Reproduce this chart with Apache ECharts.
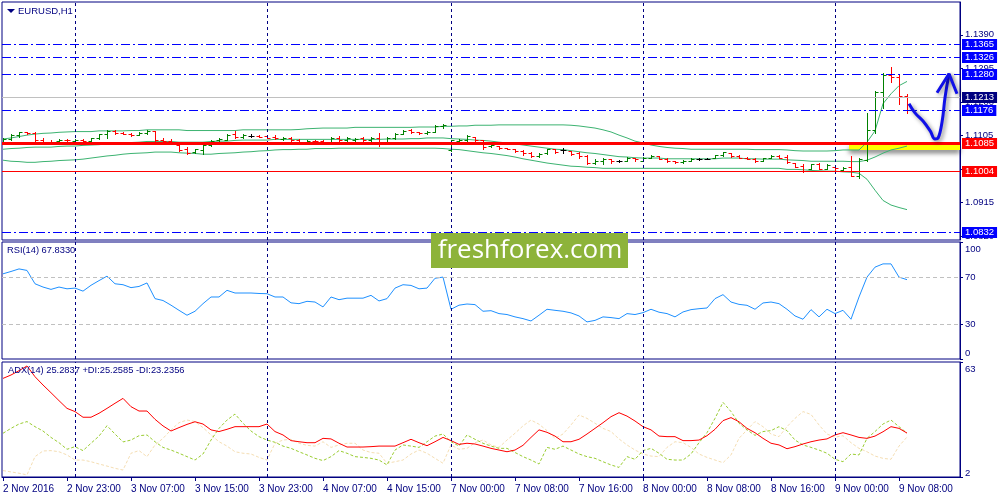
<!DOCTYPE html>
<html>
<head>
<meta charset="utf-8">
<script src="https://cdn.jsdelivr.net/npm/echarts@6/dist/echarts.min.js"></script>
<style>
html, body { margin: 0; padding: 0; background: #fff; }
#chart { width: 1000px; height: 500px; }
</style>
</head>
<body>
<div id="chart"></div>
<script>
// EURUSD H1, 2 Nov 15:00 .. 9 Nov 09:00 (114 bars)
const barOpen = [1.1087,1.1096,1.1106,1.1114,1.1112,1.1091,1.1086,1.1088,1.1093,1.1089,1.1093,1.1089,1.1097,1.1108,1.1118,1.1113,1.1110,1.1107,1.1113,1.1118,1.1092,1.1090,1.1077,1.1066,1.1059,1.1063,1.1078,1.1091,1.1093,1.1108,1.1102,1.1104,1.1104,1.1103,1.1101,1.1095,1.1099,1.1091,1.1087,1.1090,1.1088,1.1085,1.1099,1.1091,1.1091,1.1097,1.1091,1.1099,1.1087,1.1099,1.1110,1.1120,1.1116,1.1112,1.1116,1.1131,1.1063,1.1089,1.1093,1.1101,1.1091,1.1074,1.1075,1.1070,1.1068,1.1061,1.1054,1.1047,1.1055,1.1066,1.1063,1.1061,1.1056,1.1048,1.1028,1.1032,1.1037,1.1032,1.1034,1.1042,1.1034,1.1042,1.1046,1.1039,1.1032,1.1030,1.1033,1.1038,1.1039,1.1042,1.1049,1.1055,1.1047,1.1042,1.1039,1.1034,1.1042,1.1048,1.1044,1.1028,1.1018,1.1011,1.1023,1.1011,1.1015,1.1008,1.1015,1.0990,1.1035,1.1120,1.1227,1.1275,1.1272,1.1218];
const barHigh = [1.1099,1.1110,1.1116,1.1116,1.1115,1.1099,1.1092,1.1094,1.1094,1.1095,1.1094,1.1099,1.1110,1.1121,1.1121,1.1115,1.1111,1.1116,1.1121,1.1118,1.1097,1.1094,1.1078,1.1072,1.1068,1.1080,1.1092,1.1097,1.1110,1.1118,1.1108,1.1108,1.1106,1.1106,1.1106,1.1101,1.1102,1.1094,1.1092,1.1092,1.1091,1.1101,1.1104,1.1101,1.1099,1.1101,1.1101,1.1113,1.1101,1.1113,1.1120,1.1123,1.1116,1.1118,1.1135,1.1137,1.1092,1.1094,1.1106,1.1101,1.1091,1.1080,1.1075,1.1070,1.1068,1.1063,1.1059,1.1056,1.1068,1.1066,1.1070,1.1061,1.1059,1.1051,1.1037,1.1042,1.1039,1.1035,1.1044,1.1042,1.1044,1.1049,1.1047,1.1040,1.1034,1.1035,1.1040,1.1040,1.1042,1.1051,1.1059,1.1056,1.1049,1.1044,1.1040,1.1042,1.1049,1.1049,1.1049,1.1028,1.1023,1.1025,1.1028,1.1023,1.1021,1.1017,1.1047,1.1040,1.1170,1.1230,1.1281,1.1298,1.1275,1.1222];
const barLow = [1.1085,1.1091,1.1101,1.1110,1.1089,1.1080,1.1082,1.1087,1.1089,1.1085,1.1087,1.1087,1.1094,1.1099,1.1110,1.1108,1.1104,1.1106,1.1110,1.1089,1.1087,1.1080,1.1061,1.1053,1.1056,1.1053,1.1075,1.1089,1.1091,1.1099,1.1097,1.1101,1.1101,1.1097,1.1094,1.1092,1.1089,1.1083,1.1085,1.1087,1.1080,1.1085,1.1087,1.1087,1.1085,1.1087,1.1087,1.1075,1.1080,1.1094,1.1108,1.1113,1.1108,1.1108,1.1116,1.1127,1.1061,1.1080,1.1089,1.1087,1.1068,1.1072,1.1068,1.1066,1.1059,1.1051,1.1044,1.1044,1.1053,1.1056,1.1056,1.1051,1.1042,1.1025,1.1025,1.1025,1.1028,1.1030,1.1032,1.1034,1.1032,1.1042,1.1037,1.1030,1.1028,1.1028,1.1032,1.1036,1.1037,1.1042,1.1047,1.1044,1.1040,1.1037,1.1030,1.1034,1.1040,1.1040,1.1028,1.1015,1.1001,1.1010,1.1009,1.1010,1.1008,1.1004,1.0990,1.0985,1.1034,1.1113,1.1184,1.1256,1.1194,1.1170];
const barClose = [1.1096,1.1106,1.1114,1.1112,1.1091,1.1085,1.1084,1.1093,1.1091,1.1093,1.1089,1.1097,1.1108,1.1118,1.1113,1.1110,1.1106,1.1113,1.1118,1.1092,1.1090,1.1082,1.1063,1.1056,1.1066,1.1078,1.1089,1.1094,1.1106,1.1102,1.1106,1.1104,1.1102,1.1099,1.1097,1.1099,1.1091,1.1086,1.1089,1.1088,1.1084,1.1097,1.1091,1.1097,1.1095,1.1093,1.1097,1.1087,1.1097,1.1110,1.1118,1.1116,1.1112,1.1116,1.1132,1.1135,1.1091,1.1093,1.1103,1.1091,1.1072,1.1078,1.1070,1.1068,1.1061,1.1054,1.1047,1.1053,1.1066,1.1059,1.1063,1.1053,1.1047,1.1028,1.1034,1.1039,1.1032,1.1032,1.1042,1.1037,1.1042,1.1047,1.1039,1.1032,1.1030,1.1033,1.1038,1.1038,1.1039,1.1049,1.1057,1.1047,1.1042,1.1039,1.1032,1.1040,1.1048,1.1042,1.1030,1.1017,1.1004,1.1023,1.1011,1.1021,1.1012,1.1013,1.0990,1.1037,1.1120,1.1227,1.1277,1.1272,1.1218,1.1213];

// Bollinger bands (20)
const bbUpper = [1.1095,1.1098,1.1102,1.1106,1.1109,1.1111,1.1112,1.1114,1.1115,1.1116,1.1116,1.1116,1.1118,1.1118,1.1118,1.1118,1.1119,1.1119,1.1121,1.1121,1.1121,1.1121,1.1121,1.1119,1.1119,1.1119,1.1119,1.1119,1.1119,1.1119,1.1121,1.1121,1.1121,1.1121,1.1121,1.1121,1.1121,1.1122,1.1124,1.1125,1.1126,1.1126,1.1126,1.1126,1.1128,1.1128,1.1128,1.1128,1.1128,1.1128,1.1128,1.1128,1.1129,1.1129,1.1129,1.1131,1.1131,1.1132,1.1132,1.1134,1.1134,1.1134,1.1135,1.1135,1.1135,1.1135,1.1135,1.1135,1.1135,1.1135,1.1135,1.1134,1.1132,1.1129,1.1126,1.1121,1.1115,1.1106,1.1098,1.1089,1.1084,1.1078,1.1074,1.1071,1.1069,1.1068,1.1066,1.1066,1.1066,1.1066,1.1066,1.1066,1.1066,1.1066,1.1065,1.1065,1.1065,1.1065,1.1064,1.1062,1.1061,1.1061,1.1061,1.1061,1.1062,1.1064,1.1064,1.1064,1.1086,1.1118,1.1195,1.1223,1.1246,1.1258];
const bbMiddle = [1.1066,1.1068,1.1069,1.1071,1.1072,1.1072,1.1072,1.1074,1.1075,1.1075,1.1077,1.1078,1.1079,1.1081,1.1082,1.1084,1.1085,1.1086,1.1088,1.1088,1.1088,1.1088,1.1086,1.1086,1.1086,1.1086,1.1088,1.1089,1.1089,1.1091,1.1092,1.1092,1.1092,1.1092,1.1094,1.1094,1.1094,1.1094,1.1094,1.1094,1.1094,1.1094,1.1094,1.1094,1.1094,1.1094,1.1094,1.1094,1.1095,1.1095,1.1095,1.1096,1.1096,1.1098,1.1098,1.1098,1.1096,1.1095,1.1094,1.1092,1.1091,1.1089,1.1086,1.1084,1.1081,1.1078,1.1075,1.1072,1.1069,1.1066,1.1065,1.1062,1.1059,1.1056,1.1054,1.1051,1.1048,1.1045,1.1044,1.1042,1.1041,1.1041,1.1041,1.1039,1.1039,1.1039,1.1039,1.1039,1.1039,1.1039,1.1041,1.1041,1.1041,1.1039,1.1039,1.1038,1.1038,1.1038,1.1036,1.1035,1.1034,1.1032,1.1032,1.1032,1.1032,1.1032,1.1031,1.1031,1.1035,1.1044,1.1055,1.1064,1.1069,1.1075];
const bbLower = [1.1035,1.1032,1.1031,1.1029,1.1029,1.1031,1.1032,1.1034,1.1035,1.1036,1.1038,1.1041,1.1044,1.1047,1.1049,1.1052,1.1054,1.1055,1.1056,1.1058,1.1058,1.1058,1.1056,1.1055,1.1054,1.1052,1.1052,1.1054,1.1055,1.1056,1.1058,1.1059,1.1061,1.1062,1.1064,1.1065,1.1065,1.1066,1.1066,1.1068,1.1068,1.1068,1.1069,1.1069,1.1069,1.1069,1.1069,1.1069,1.1069,1.1069,1.1069,1.1069,1.1069,1.1069,1.1069,1.1068,1.1066,1.1065,1.1062,1.1059,1.1056,1.1054,1.1051,1.1048,1.1044,1.1039,1.1035,1.1031,1.1027,1.1024,1.1021,1.1018,1.1017,1.1015,1.1014,1.1012,1.1012,1.1012,1.1012,1.1012,1.1012,1.1012,1.1012,1.1012,1.1012,1.1012,1.1012,1.1012,1.1012,1.1012,1.1012,1.1012,1.1012,1.1012,1.1012,1.1012,1.1012,1.1012,1.1009,1.1009,1.1008,1.1006,1.1005,1.1004,1.1004,1.1002,1.1001,1.0998,1.0981,1.0950,1.0921,1.0908,1.0901,1.0895];

// RSI(14)
const rsiValues = [72.8,74.8,77,75.7,64.3,61.5,59.5,61.5,60,60.6,58,63,67,70.8,64.3,63.5,61,62,65,51.6,50,46,41.6,37.4,40.8,47.3,53,53,58.7,56.4,56.4,56.4,56,55.8,53,53,48,47.3,49.3,48.7,44.5,53,50.7,52,52,52,54.4,49.6,51.6,60.6,63.5,62.9,60,60.6,69,70,42.5,46,47,46.5,40.8,41.3,38.8,38,36,34.5,32.5,37.4,42.5,41.6,40.8,39.4,36.8,31.7,33,36,35.4,34.5,38.8,38,39.6,42.5,40,38.8,36,40.2,42.2,43,43.6,51.6,55,48.7,46.7,45.9,42.5,47.9,48.7,47.3,42.5,36.8,34,42.2,36,42.5,38.8,41.6,34,53,70,78.5,81.3,81.3,70,67.8];

// ADX(14), +DI, -DI
const adxValues = [54.3,56.1,58.4,60.9,55.2,50.8,46.7,42.5,38.4,36.7,33.7,33.7,35.8,38.4,41.1,43.7,39.3,37,37,32.6,29.1,26.4,28.2,29.9,31.3,30.1,27,26.1,27.3,28.7,28.7,28.7,28.7,30.1,26.1,24.3,21.3,20.7,20.2,20.2,22.5,22.2,19.9,17.9,17.9,17.9,18.1,18.4,18.4,18.4,20.2,22,20.2,18.6,20.7,23,21.3,19.3,19.9,19.5,18.4,17.2,16.3,15.4,16.3,18.8,23,27,25.7,23.7,20.7,20.7,22,24.8,27.8,30.8,34,36.1,34.3,31.7,28.7,27,23.7,23.4,23.4,21.3,21.3,21.6,23.9,27.3,31.9,33.5,31.3,27.8,25.5,22.5,19.9,19,17,18.1,19.5,20.7,21.6,22.2,24.3,25.5,24.3,23,22.5,23.7,26,28.7,27.8,25.3];
const plusDi = [25.2,27.8,30.1,31.4,28.7,26.4,23,20.2,16.7,18.1,16,19.9,23.7,29.2,24.8,20.6,21.6,23.9,24.3,20.7,17.7,16.3,14.6,12.8,11,14.2,21.6,27.8,32.2,35.4,30.5,26.4,23.4,21.6,20.4,18.4,17.2,15.4,13.7,11.9,10.7,12.8,16,14.6,12.8,12.4,11.9,11,8.4,16.3,19,18.4,17.7,20.7,23.7,24.8,20.7,18.4,24.3,22,19.9,18.4,17.2,17.2,15,12.8,11,8.9,17.7,16.7,18.4,16.3,14.2,12.8,11.9,10.1,8.4,7.1,12.8,11.4,16,17.2,14.6,11.4,11,11,14.2,20.2,25.5,33.1,41.6,36.7,30.5,27,24.1,26.1,26.6,28.7,26.6,21.6,19,17.7,16.3,14.6,11.4,10.1,14.2,13.7,22.5,26.1,30.1,32.2,28.7,25.3];
const minusDi = [5.4,4.7,4,3.1,12.8,15.8,16,15.4,13.7,11,11,10.1,8.9,7.8,6.6,5.7,14.6,16,12.8,19,22.5,27,30.8,32.2,31.4,28.2,24.3,20.7,18.4,15.4,14.6,14.2,12.4,11,19.9,21.6,22,19.9,18.8,18.4,20.7,17.7,19,19.9,19.9,16.3,15,14.6,9.3,10.1,11,14.2,16.3,14.6,11.9,9.3,19,16.7,17.2,20.2,21.6,19,17.7,21.6,25.2,29.1,32.2,30,26.6,22.5,24.8,29.6,34.9,33.1,30.5,27.8,26.1,22.2,19,16.3,14.2,13.1,12.8,17.7,20.7,20.2,17.7,14.2,12.4,11,9.6,13.7,22.5,27,31.4,28.7,24.8,23.4,28.7,33.1,36.7,35.2,29.6,24.8,23.1,23.9,20.2,17.2,15.4,13.1,11.9,11.4,18.4,23.2];

// time axis
const timeLabelIdx = [0,8,16,24,32,40,48,56,64,72,80,88,96,104,112];
const timeLabels = ['2 Nov 2016','2 Nov 23:00','3 Nov 07:00','3 Nov 15:00','3 Nov 23:00','4 Nov 07:00','4 Nov 15:00','7 Nov 00:00','7 Nov 08:00','7 Nov 16:00','8 Nov 00:00','8 Nov 08:00','8 Nov 16:00','9 Nov 00:00','9 Nov 08:00'];
const dayStartIdx = [9,33,56,80,104];

// price scale ticks and drawn levels
const priceTicks = [1.0820,1.0915,1.1010,1.1105,1.1200,1.1295,1.1390];
const blueLevels = [1.1365,1.1326,1.1280,1.1176,1.0832];
const supportLevel = 1.1085;
const lowLevel = 1.1004;
const lastPrice = 1.1213;
const rsiTicks = [0,30,70,100];
const rsiLevels = [30,70];
const adxTicks = [2,63];

// hand drawn forecast (bar index, price)
const arrowPath = [[113.25,1.1195],[114.0,1.1169],[115.0,1.1146],[115.9,1.1118],[116.5,1.1095],[116.9,1.1098],[117.4,1.1146],[117.75,1.1212],[118.25,1.1280]];
const arrowHead = [[116.75,1.1226],[118.25,1.1280],[119.25,1.1223]];
const zoneFrom = [105.75,1.1078];
const zoneTo = [119.625,1.1064];

const NAVY = '#000080';
const FONT = 'Liberation Sans, Arial, sans-serif';
const X_MIN = -0.125, X_MAX = 119.625;

// line looks for the horizontal levels: 0 blue dash-dot, 1 last price, 2 thin red, 3 thick red
const levelLooks = [
    { stroke: '#0000ff', width: 1, dash: [9, 3, 2, 3], bg: '#0000ff' },
    { stroke: '#c0c0c0', width: 1, dash: null, bg: NAVY },
    { stroke: '#ff0000', width: 1, dash: null, bg: '#ff0000' },
    { stroke: '#ff0000', width: 3, dash: null, bg: '#ff0000' }
];

const chart = echarts.init(document.getElementById('chart'));

function renderBar(params, api) {
    const i = api.value(0);
    const o = api.value(1), h = api.value(2), l = api.value(3), c = api.value(4);
    const top = api.coord([i, h]);
    const x = Math.round(top[0]) + 0.5;
    const yl = api.coord([i, l])[1];
    const yo = Math.round(api.coord([i, o])[1]) + 0.5;
    const yc = Math.round(api.coord([i, c])[1]) + 0.5;
    const col = c > o ? '#008000' : (c < o ? '#ff0000' : '#000000');
    const st = { stroke: col, lineWidth: 1 };
    return {
        type: 'group',
        children: [
            { type: 'line', shape: { x1: x, y1: Math.round(top[1]), x2: x, y2: Math.round(yl) + 1 }, style: st },
            { type: 'line', shape: { x1: x - 3, y1: yo, x2: x, y2: yo }, style: st },
            { type: 'line', shape: { x1: x, y1: yc, x2: x + 3, y2: yc }, style: st }
        ]
    };
}

function renderLevel(params, api) {
    const v = api.value(1);
    const look = levelLooks[api.value(2)];
    const a = api.coord([X_MIN, v]);
    const b = api.coord([X_MAX, v]);
    const y = Math.round(a[1]) + 0.5;
    return {
        type: 'group',
        children: [
            {
                type: 'line', shape: { x1: a[0], y1: y, x2: b[0], y2: y },
                style: { stroke: look.stroke, lineWidth: look.width, lineDash: look.dash }
            },
            {
                type: 'text', x: b[0] + 2, y: y,
                style: {
                    text: v.toFixed(4), fill: '#fff', backgroundColor: look.bg,
                    padding: [1, 3, 0, 3], font: '9.5px ' + FONT,
                    align: 'left', verticalAlign: 'middle'
                }
            }
        ]
    };
}

const levelData = blueLevels.map(v => [X_MIN, v, 0])
    .concat([[X_MIN, lastPrice, 1], [X_MIN, lowLevel, 2], [X_MIN, supportLevel, 3]]);

const dayLines = {
    silent: true,
    symbol: 'none',
    label: { show: false },
    lineStyle: { color: NAVY, type: [3, 3], width: 1 },
    data: dayStartIdx.map(v => ({ xAxis: v }))
};

function idxSeries(values) {
    return values.map((v, i) => [i, v]);
}

function xAxisFor(gridIndex, show) {
    const ax = { type: 'value', gridIndex, min: X_MIN, max: X_MAX, show: show, splitLine: { show: false } };
    if (show) {
        ax.axisLine = { show: true, onZero: false, lineStyle: { color: NAVY } };
        ax.axisTick = { show: true, customValues: timeLabelIdx, length: 4, lineStyle: { color: NAVY } };
        ax.axisLabel = {
            customValues: timeLabelIdx,
            formatter: v => timeLabels[timeLabelIdx.indexOf(v)],
            align: 'left', color: NAVY, fontSize: 10, fontFamily: FONT, margin: 7
        };
    }
    return ax;
}

function yAxisFor(gridIndex, min, max, ticks, labelOpts) {
    return {
        type: 'value', gridIndex, position: 'right', min, max,
        splitLine: { show: false },
        axisLine: { show: true, onZero: false, lineStyle: { color: NAVY } },
        axisTick: { show: true, customValues: ticks, length: 3, lineStyle: { color: NAVY } },
        axisLabel: Object.assign({ customValues: ticks, color: NAVY, fontSize: 9.5, fontFamily: FONT, margin: 5 }, labelOpts)
    };
}

const bbStyle = { color: '#3cb371', width: 1 };
const penStyle = { color: '#1010e8', width: 3, shadowBlur: 4, shadowColor: 'rgba(0,0,0,0.45)', shadowOffsetX: 2, shadowOffsetY: 2 };

const option = {
    animation: false,
    backgroundColor: '#fff',
    grid: [
        { left: 2, right: 40, top: 2, height: 238, show: true, borderColor: NAVY, borderWidth: 1, outerBoundsMode: 'none' },
        { left: 2, right: 40, top: 242, height: 117, show: true, borderColor: NAVY, borderWidth: 1, outerBoundsMode: 'none' },
        { left: 2, right: 40, top: 362, height: 115, show: true, borderColor: NAVY, borderWidth: 1, outerBoundsMode: 'none' }
    ],
    xAxis: [xAxisFor(0, false), xAxisFor(1, false), xAxisFor(2, true)],
    yAxis: [
        yAxisFor(0, 1.0809, 1.1483, priceTicks, { formatter: v => v.toFixed(4) }),
        yAxisFor(1, 0, 100, rsiTicks, {
            formatter: v => v === 100 ? '{t|100}' : (v === 0 ? '{b|0}' : String(v)),
            rich: {
                t: { padding: [14, 0, 0, 0], color: NAVY, fontSize: 9.5, fontFamily: FONT },
                b: { padding: [0, 0, 12, 0], color: NAVY, fontSize: 9.5, fontFamily: FONT }
            }
        }),
        yAxisFor(2, 2, 63, adxTicks, {
            formatter: v => v === 63 ? '{t|63}' : '{b|2}',
            rich: {
                t: { padding: [14, 0, 0, 0], color: NAVY, fontSize: 9.5, fontFamily: FONT },
                b: { padding: [0, 0, 8, 0], color: NAVY, fontSize: 9.5, fontFamily: FONT }
            }
        })
    ],
    series: [
        {
            type: 'line', xAxisIndex: 0, yAxisIndex: 0, data: idxSeries(bbUpper),
            showSymbol: false, lineStyle: bbStyle, silent: true, z: 2,
            markLine: dayLines
        },
        { type: 'line', xAxisIndex: 0, yAxisIndex: 0, data: idxSeries(bbMiddle), showSymbol: false, lineStyle: bbStyle, silent: true, z: 2 },
        { type: 'line', xAxisIndex: 0, yAxisIndex: 0, data: idxSeries(bbLower), showSymbol: false, lineStyle: bbStyle, silent: true, z: 2 },
        {
            type: 'line', xAxisIndex: 0, yAxisIndex: 0, data: [], silent: true, z: 3,
            markArea: {
                silent: true,
                itemStyle: { color: '#ffff00', shadowBlur: 5, shadowColor: 'rgba(0,0,0,0.55)', shadowOffsetY: 3 },
                data: [[{ xAxis: zoneFrom[0], yAxis: zoneFrom[1] }, { xAxis: zoneTo[0], yAxis: zoneTo[1] }]]
            }
        },
        {
            type: 'custom', xAxisIndex: 0, yAxisIndex: 0, renderItem: renderBar, clip: true, z: 4,
            encode: { x: 0, y: [1, 2, 3, 4] },
            data: barOpen.map((o, i) => [i, o, barHigh[i], barLow[i], barClose[i]])
        },
        {
            type: 'custom', xAxisIndex: 0, yAxisIndex: 0, renderItem: renderLevel, clip: false, silent: true, z: 5,
            encode: { x: 0, y: 1 },
            data: levelData
        },
        {
            type: 'line', xAxisIndex: 0, yAxisIndex: 0, data: arrowPath, smooth: 0.4, showSymbol: false, silent: true, z: 6,
            lineStyle: penStyle
        },
        {
            type: 'line', xAxisIndex: 0, yAxisIndex: 0, data: arrowHead, showSymbol: false, silent: true, z: 6,
            lineStyle: penStyle
        },
        {
            type: 'line', xAxisIndex: 1, yAxisIndex: 1, data: idxSeries(rsiValues), showSymbol: false, silent: true,
            lineStyle: { color: '#1e90ff', width: 1 },
            markLine: {
                silent: true, symbol: 'none', label: { show: false },
                data: rsiLevels.map(v => ({ yAxis: v, lineStyle: { color: '#c0c0c0', type: [4, 3], width: 1 } }))
                    .concat(dayStartIdx.map(v => ({ xAxis: v, lineStyle: { color: NAVY, type: [3, 3], width: 1 } })))
            }
        },
        {
            type: 'line', xAxisIndex: 2, yAxisIndex: 2, data: idxSeries(minusDi), showSymbol: false, silent: true,
            lineStyle: { color: '#f5deb3', width: 1, type: [3, 2] },
            markLine: dayLines
        },
        {
            type: 'line', xAxisIndex: 2, yAxisIndex: 2, data: idxSeries(plusDi), showSymbol: false, silent: true,
            lineStyle: { color: '#9acd32', width: 1, type: [3, 2] }
        },
        {
            type: 'line', xAxisIndex: 2, yAxisIndex: 2, data: idxSeries(adxValues), showSymbol: false, silent: true,
            lineStyle: { color: '#ff0000', width: 1 }
        }
    ],
    graphic: [
        { type: 'polygon', shape: { points: [[7, 9], [15, 9], [11, 13]] }, style: { fill: NAVY }, z: 10 },
        { type: 'text', left: 18, top: 6, style: { text: 'EURUSD,H1', fill: NAVY, font: '9.5px ' + FONT }, z: 10 },
        { type: 'text', left: 7, top: 246, style: { text: 'RSI(14) 67.8330', fill: NAVY, font: '9.3px ' + FONT }, z: 10 },
        { type: 'text', left: 8, top: 366, style: { text: 'ADX(14) 25.2837 +DI:25.2585 -DI:23.2356', fill: NAVY, font: '9.3px ' + FONT }, z: 10 },
        { type: 'rect', shape: { x: 431, y: 233, width: 197, height: 35 }, style: { fill: '#8db33a' }, z: 20 },
        {
            type: 'text', x: 530, y: 251,
            style: { text: 'freshforex.com', fill: '#fff', font: '26px "Open Sans", sans-serif', align: 'center', verticalAlign: 'middle' },
            z: 21
        }
    ]
};

chart.setOption(option);
</script>
</body>
</html>
